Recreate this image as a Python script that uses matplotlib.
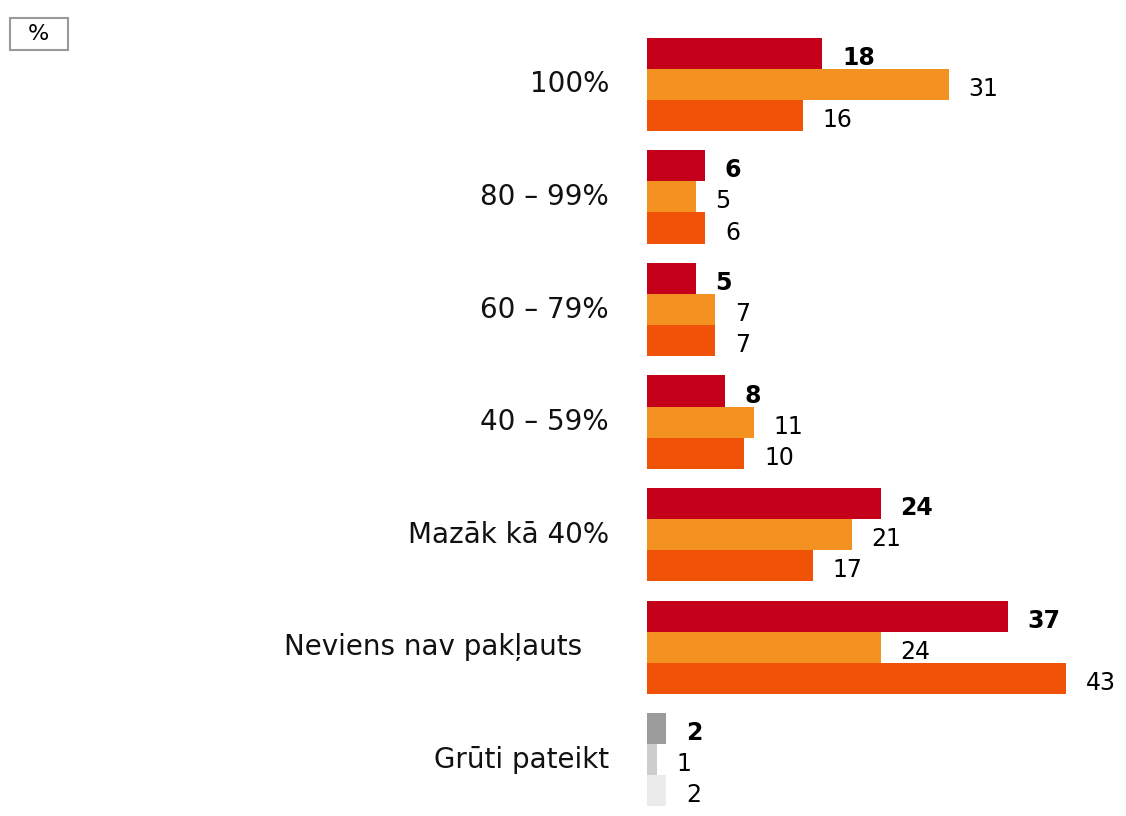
import matplotlib.pyplot as plt
from matplotlib.patches import Rectangle
import numpy as np

# categories and values per series
categories = ['100%', '80 – 99%', '60 – 79%', '40 – 59%', 'Mazāk kā 40%',
              'Neviens nav pakļauts   ', 'Grūti pateikt']
series_a = [18, 6, 5, 8, 24, 37, 2]
series_b = [31, 5, 7, 11, 21, 24, 1]
series_c = [16, 6, 7, 10, 17, 43, 2]

colors_a = ['#C4001A'] * 6 + ['#9B9B9B']
colors_b = ['#F39220'] * 6 + ['#CDCDCD']
colors_c = ['#F05208'] * 6 + ['#EBEBEB']

fig = plt.figure(figsize=(11.26, 8.16), dpi=100)
ax = fig.add_axes([0.5746, 0.0, 0.4156, 1.0])

bar_h = 0.2756
y = np.arange(len(categories))
offsets = [-bar_h, 0, bar_h]
all_series = [series_a, series_b, series_c]
all_colors = [colors_a, colors_b, colors_c]

for k, (vals, cols) in enumerate(zip(all_series, all_colors)):
    ypos = y + offsets[k]
    ax.barh(ypos, vals, height=bar_h, color=cols, linewidth=0)
    for yy, v in zip(ypos, vals):
        ax.text(v + 2.0, yy + 0.04, str(v), va='center', ha='left',
                fontsize=17, color='black',
                fontweight='bold' if k == 0 else 'normal')

ax.set_xlim(0, 48)
ax.set_ylim(6.502, -0.751)
ax.axis('off')

# category labels to the left of the bars
for yy, cat in zip(y, categories):
    ax.text(-3.9, yy, cat, ha='right', va='center', fontsize=20,
            color='#111111')

# "%" unit box in the top-left corner
fig.patches.append(Rectangle((10 / 1126, 1 - 50 / 816), 58 / 1126, 32 / 816,
                             transform=fig.transFigure, facecolor='white',
                             edgecolor='#999999', linewidth=1.5))
fig.text(38 / 1126, 1 - 34 / 816, '%', ha='center', va='center', fontsize=16)

plt.savefig('out.png', dpi=100)
plt.close()
